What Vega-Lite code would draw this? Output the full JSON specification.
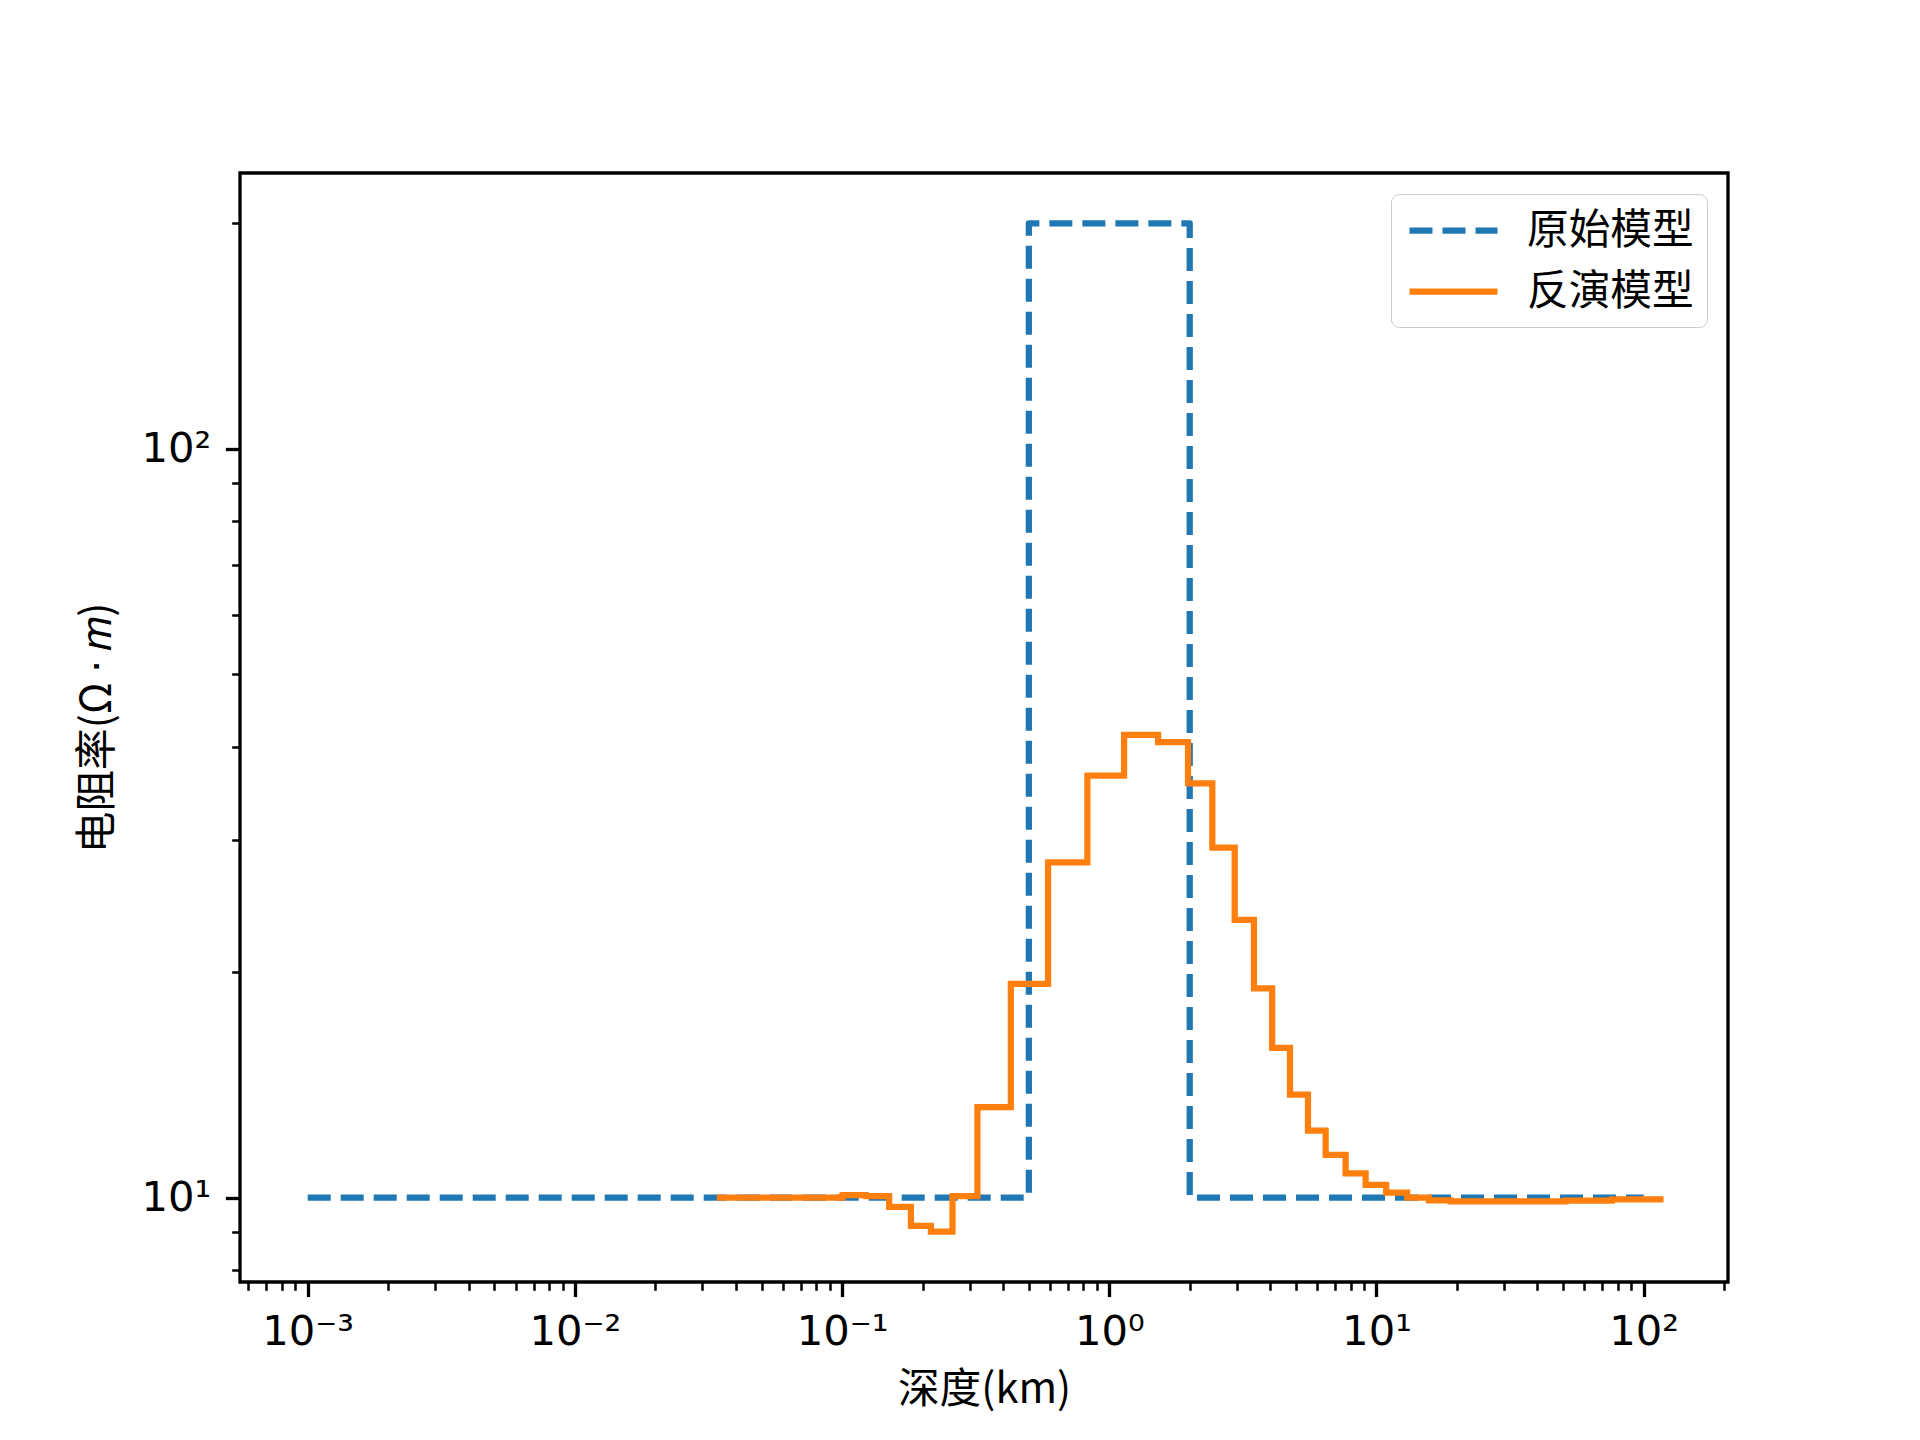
{
  "$schema": "https://vega.github.io/schema/vega-lite/v6.json",
  "width": 1488,
  "height": 1109,
  "autosize": {"type": "none"},
  "padding": {"left": 240, "top": 173, "right": 192, "bottom": 158},
  "background": "white",
  "config": {
    "view": {"stroke": "black", "strokeWidth": 3.3},
    "font": "DejaVu Sans",
    "legend": {"title": null, "orient": "top-right", "offset": 21, "fillColor": "white", "strokeColor": "#cccccc", "cornerRadius": 8, "padding": 13,
      "labelFont": "Noto Sans CJK SC", "labelFontSize": 41.7, "labelColor": "black", "labelOffset": 50, "labelLimit": 500,
      "symbolType": "M-2.2,0H2.2", "symbolSize": 1600, "symbolOffset": 26, "symbolStrokeWidth": 6.25, "rowPadding": 15}
  },
  "layer": [
    {
      "data": {"values": [
        {"depth": 0.001, "rho": 10, "model": "原始模型"},
        {"depth": 0.5, "rho": 200, "model": "原始模型"},
        {"depth": 2, "rho": 10, "model": "原始模型"},
        {"depth": 100, "rho": 10, "model": "原始模型"}
      ]},
      "mark": {"type": "line", "interpolate": "step-after", "strokeWidth": 6.25, "strokeCap": "butt", "strokeJoin": "round"},
      "encoding": {
        "x": {"field": "depth", "type": "quantitative",
          "scale": {"type": "log", "domain": [0.000558, 206.8], "nice": false},
          "axis": {"orient": "bottom", "values": [0.001, 0.01, 0.1, 1, 10, 100],
            "labelExpr": "datum.value < 0.005 ? '10⁻³' : datum.value < 0.05 ? '10⁻²' : datum.value < 0.5 ? '10⁻¹' : datum.value < 5 ? '10⁰' : datum.value < 50 ? '10¹' : '10²'",
            "tickSize": 14.6, "tickWidth": 3.3, "tickColor": "black", "domain": false, "grid": false,
            "labelFont": "DejaVu Sans", "labelFontSize": 41.7, "labelColor": "black", "labelPadding": 14.6,
            "labelFlush": false, "labelOverlap": false,
            "title": "深度(km)", "titleFont": "Noto Sans CJK SC", "titleFontSize": 41.7, "titleFontWeight": "normal", "titleColor": "black", "titlePadding": 16.7}},
        "y": {"field": "rho", "type": "quantitative",
          "scale": {"type": "log", "domain": [7.717, 233.5], "nice": false, "zero": false},
          "axis": {"orient": "left", "values": [10, 100],
            "labelExpr": "datum.value < 50 ? '10¹' : '10²'",
            "tickSize": 14.6, "tickWidth": 3.3, "tickColor": "black", "domain": false, "grid": false,
            "labelFont": "DejaVu Sans", "labelFontSize": 41.7, "labelColor": "black", "labelPadding": 14.6,
            "labelFlush": false, "labelOverlap": false,
            "title": "电阻率(Ω ⋅ 𝑚)", "titleFont": "Noto Sans CJK SC", "titleFontSize": 41.7, "titleFontWeight": "normal", "titleColor": "black", "titlePadding": 22}},
        "color": {"field": "model", "type": "nominal",
          "scale": {"domain": ["原始模型", "反演模型"], "range": ["#1f77b4", "#ff7f0e"]}},
        "strokeDash": {"field": "model", "type": "nominal",
          "scale": {"domain": ["原始模型", "反演模型"], "range": [[23, 10], [1, 0]]}}
      }
    },
    {
      "data": {"values": [
        {"depth": 0.0349, "rho": 10.0, "model": "反演模型"},
        {"depth": 0.1004, "rho": 10.08, "model": "反演模型"},
        {"depth": 0.1229, "rho": 10.05, "model": "反演模型"},
        {"depth": 0.150, "rho": 9.72, "model": "反演模型"},
        {"depth": 0.181, "rho": 9.17, "model": "反演模型"},
        {"depth": 0.215, "rho": 9.01, "model": "反演模型"},
        {"depth": 0.259, "rho": 10.05, "model": "反演模型"},
        {"depth": 0.321, "rho": 13.21, "model": "反演模型"},
        {"depth": 0.428, "rho": 19.30, "model": "反演模型"},
        {"depth": 0.590, "rho": 28.03, "model": "反演模型"},
        {"depth": 0.828, "rho": 36.61, "model": "反演模型"},
        {"depth": 1.136, "rho": 41.51, "model": "反演模型"},
        {"depth": 1.522, "rho": 40.57, "model": "反演模型"},
        {"depth": 1.971, "rho": 35.76, "model": "反演模型"},
        {"depth": 2.430, "rho": 29.35, "model": "反演模型"},
        {"depth": 2.947, "rho": 23.49, "model": "反演模型"},
        {"depth": 3.479, "rho": 19.03, "model": "反演模型"},
        {"depth": 4.07, "rho": 15.85, "model": "反演模型"},
        {"depth": 4.746, "rho": 13.73, "model": "反演模型"},
        {"depth": 5.541, "rho": 12.29, "model": "反演模型"},
        {"depth": 6.451, "rho": 11.41, "model": "反演模型"},
        {"depth": 7.664, "rho": 10.78, "model": "反演模型"},
        {"depth": 9.105, "rho": 10.40, "model": "反演模型"},
        {"depth": 10.87, "rho": 10.16, "model": "反演模型"},
        {"depth": 13.02, "rho": 10.0, "model": "反演模型"},
        {"depth": 15.70, "rho": 9.92, "model": "反演模型"},
        {"depth": 18.93, "rho": 9.89, "model": "反演模型"},
        {"depth": 50.95, "rho": 9.91, "model": "反演模型"},
        {"depth": 76.1, "rho": 9.95, "model": "反演模型"},
        {"depth": 115.5, "rho": 9.95, "model": "反演模型"}
      ]},
      "mark": {"type": "line", "interpolate": "step-after", "strokeWidth": 6.25, "strokeCap": "square", "strokeJoin": "round"},
      "encoding": {
        "x": {"field": "depth", "type": "quantitative", "scale": {"type": "log", "domain": [0.000558, 206.8], "nice": false}, "axis": null},
        "y": {"field": "rho", "type": "quantitative", "scale": {"type": "log", "domain": [7.717, 233.5], "nice": false, "zero": false}, "axis": null},
        "color": {"field": "model", "type": "nominal",
          "scale": {"domain": ["原始模型", "反演模型"], "range": ["#1f77b4", "#ff7f0e"]}},
        "strokeDash": {"field": "model", "type": "nominal",
          "scale": {"domain": ["原始模型", "反演模型"], "range": [[23, 10], [1, 0]]}}
      }
    },
    {
      "data": {"values": [
        {"depth": 0.001, "rho": 10},
        {"depth": 100, "rho": 10}
      ]},
      "mark": {"type": "point", "opacity": 0},
      "encoding": {
        "x": {"field": "depth", "type": "quantitative",
          "scale": {"type": "log", "domain": [0.000558, 206.8], "nice": false},
          "axis": {"orient": "bottom", "values": [0.0006, 0.0007, 0.0008, 0.0009, 0.002, 0.003, 0.004, 0.005, 0.006, 0.007, 0.008, 0.009, 0.02, 0.03, 0.04, 0.05, 0.06, 0.07, 0.08, 0.09, 0.2, 0.3, 0.4, 0.5, 0.6, 0.7, 0.8, 0.9, 2, 3, 4, 5, 6, 7, 8, 9, 20, 30, 40, 50, 60, 70, 80, 90, 200],
            "labels": false, "domain": false, "grid": false, "title": null, "tickSize": 8.3, "tickWidth": 2.5, "tickColor": "black"}},
        "y": {"field": "rho", "type": "quantitative",
          "scale": {"type": "log", "domain": [7.717, 233.5], "nice": false, "zero": false},
          "axis": {"orient": "left", "values": [8, 9, 20, 30, 40, 50, 60, 70, 80, 90, 200],
            "labels": false, "domain": false, "grid": false, "title": null, "tickSize": 8.3, "tickWidth": 2.5, "tickColor": "black"}}
      }
    }
  ],
  "resolve": {"axis": {"x": "independent", "y": "independent"}}
}
